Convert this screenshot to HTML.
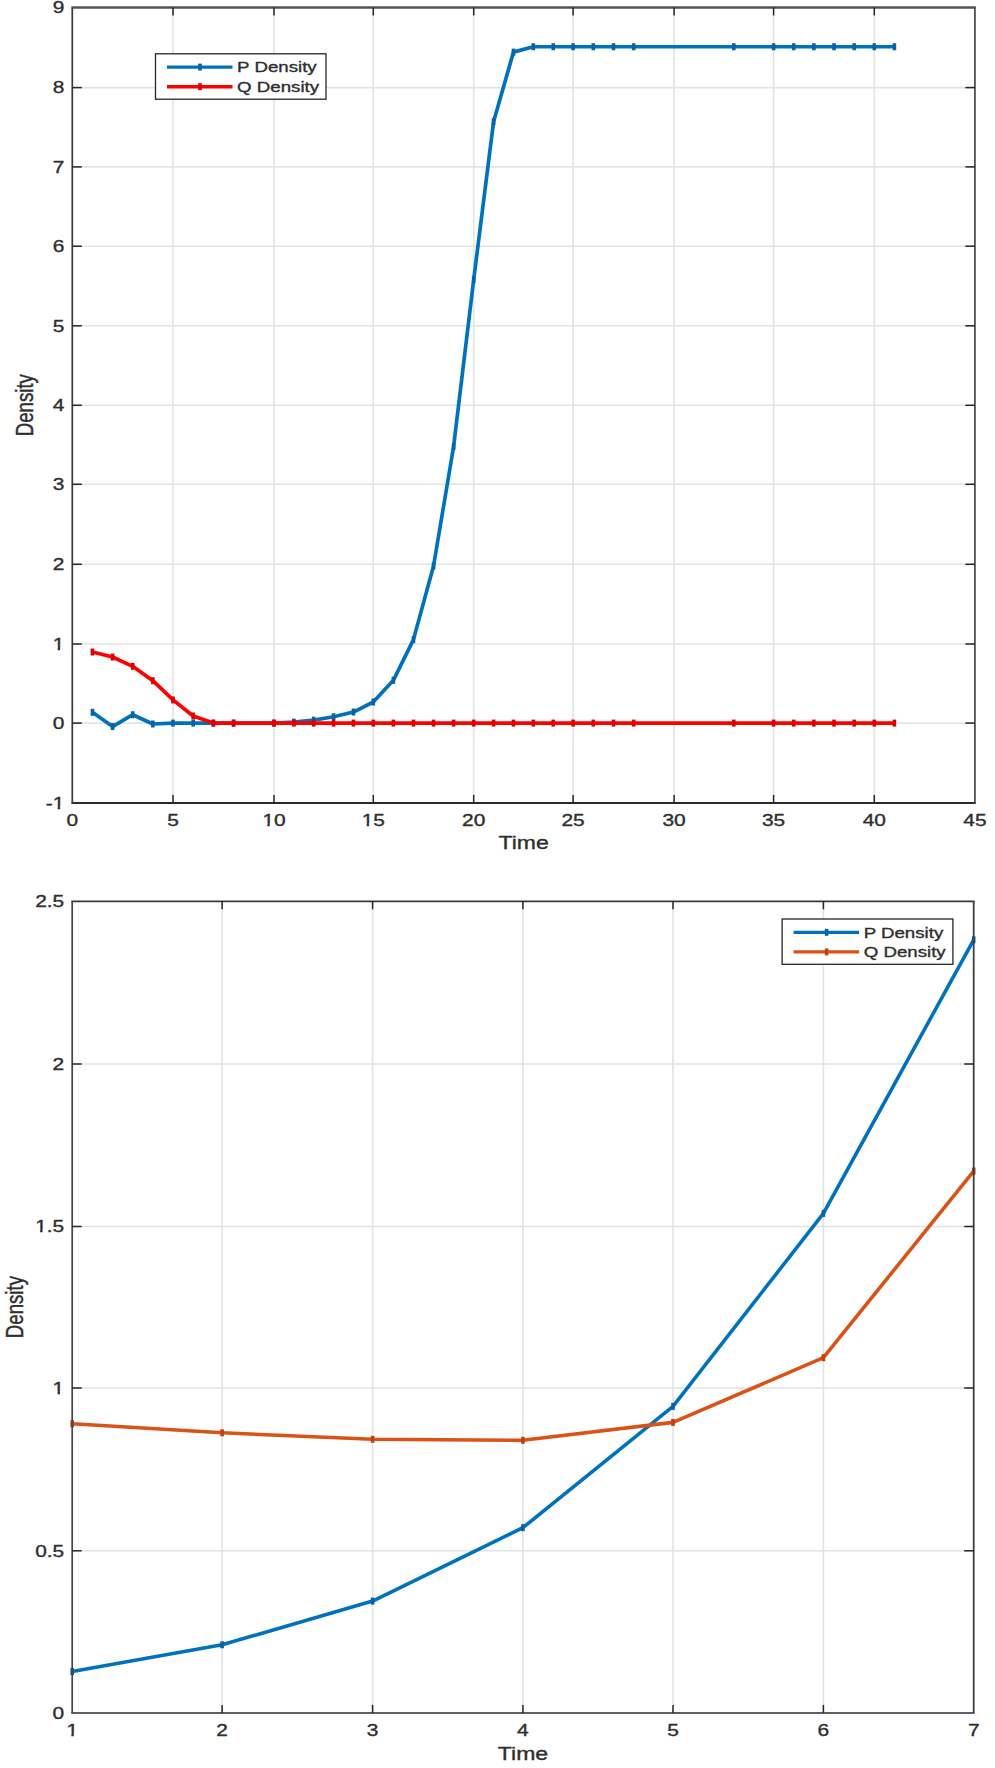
<!DOCTYPE html>
<html><head><meta charset="utf-8"><title>Density plots</title>
<style>
html,body{margin:0;padding:0;background:#fff;}
body{width:995px;height:1768px;overflow:hidden;}
svg{display:block;font-family:"Liberation Sans", sans-serif;}
</style></head>
<body>
<svg width="995" height="1768" viewBox="0 0 995 1768">
<rect width="995" height="1768" fill="#fff"/>
<line x1="173.00" y1="7.5" x2="173.00" y2="802.9" stroke="#e3e3e3" stroke-width="1.6"/>
<line x1="274.00" y1="7.5" x2="274.00" y2="802.9" stroke="#e3e3e3" stroke-width="1.6"/>
<line x1="373.30" y1="7.5" x2="373.30" y2="802.9" stroke="#e3e3e3" stroke-width="1.6"/>
<line x1="473.70" y1="7.5" x2="473.70" y2="802.9" stroke="#e3e3e3" stroke-width="1.6"/>
<line x1="573.10" y1="7.5" x2="573.10" y2="802.9" stroke="#e3e3e3" stroke-width="1.6"/>
<line x1="674.10" y1="7.5" x2="674.10" y2="802.9" stroke="#e3e3e3" stroke-width="1.6"/>
<line x1="773.60" y1="7.5" x2="773.60" y2="802.9" stroke="#e3e3e3" stroke-width="1.6"/>
<line x1="874.30" y1="7.5" x2="874.30" y2="802.9" stroke="#e3e3e3" stroke-width="1.6"/>
<line x1="72.3" y1="723.10" x2="974.9" y2="723.10" stroke="#e3e3e3" stroke-width="1.6"/>
<line x1="72.3" y1="644.00" x2="974.9" y2="644.00" stroke="#e3e3e3" stroke-width="1.6"/>
<line x1="72.3" y1="564.30" x2="974.9" y2="564.30" stroke="#e3e3e3" stroke-width="1.6"/>
<line x1="72.3" y1="484.30" x2="974.9" y2="484.30" stroke="#e3e3e3" stroke-width="1.6"/>
<line x1="72.3" y1="405.30" x2="974.9" y2="405.30" stroke="#e3e3e3" stroke-width="1.6"/>
<line x1="72.3" y1="325.80" x2="974.9" y2="325.80" stroke="#e3e3e3" stroke-width="1.6"/>
<line x1="72.3" y1="246.20" x2="974.9" y2="246.20" stroke="#e3e3e3" stroke-width="1.6"/>
<line x1="72.3" y1="166.90" x2="974.9" y2="166.90" stroke="#e3e3e3" stroke-width="1.6"/>
<line x1="72.3" y1="87.60" x2="974.9" y2="87.60" stroke="#e3e3e3" stroke-width="1.6"/>
<polyline points="92.44,712.26 112.58,726.53 132.72,714.72 152.86,723.98 173.00,723.10 193.20,723.10 213.40,723.10 233.60,723.10 274.00,723.10 293.86,722.15 313.72,720.17 333.58,716.77 353.44,712.03 373.30,701.98 393.38,680.31 413.46,639.62 433.54,565.97 453.62,446.54 473.70,279.63 493.58,121.70 513.46,52.12 533.34,46.75 553.22,46.75 573.10,46.75 593.30,46.75 613.50,46.75 633.70,46.75 733.80,46.75 773.60,46.75 793.74,46.75 813.88,46.75 834.02,46.75 854.16,46.75 874.30,46.75 894.42,46.75" fill="none" stroke="#0072bd" stroke-width="3.7" stroke-linejoin="round" stroke-linecap="butt"/>
<rect x="90.64" y="708.76" width="3.6" height="7.0" fill="#0a62a6"/>
<rect x="110.78" y="723.03" width="3.6" height="7.0" fill="#0a62a6"/>
<rect x="130.92" y="711.22" width="3.6" height="7.0" fill="#0a62a6"/>
<rect x="151.06" y="720.48" width="3.6" height="7.0" fill="#0a62a6"/>
<rect x="171.20" y="719.60" width="3.6" height="7.0" fill="#0a62a6"/>
<rect x="191.40" y="719.60" width="3.6" height="7.0" fill="#0a62a6"/>
<rect x="211.60" y="719.60" width="3.6" height="7.0" fill="#0a62a6"/>
<rect x="231.80" y="719.60" width="3.6" height="7.0" fill="#0a62a6"/>
<rect x="272.20" y="719.60" width="3.6" height="7.0" fill="#0a62a6"/>
<rect x="292.06" y="718.65" width="3.6" height="7.0" fill="#0a62a6"/>
<rect x="311.92" y="716.67" width="3.6" height="7.0" fill="#0a62a6"/>
<rect x="331.78" y="713.27" width="3.6" height="7.0" fill="#0a62a6"/>
<rect x="351.64" y="708.53" width="3.6" height="7.0" fill="#0a62a6"/>
<rect x="371.50" y="698.48" width="3.6" height="7.0" fill="#0a62a6"/>
<rect x="391.58" y="676.81" width="3.6" height="7.0" fill="#0a62a6"/>
<rect x="411.66" y="636.12" width="3.6" height="7.0" fill="#0a62a6"/>
<rect x="431.74" y="562.47" width="3.6" height="7.0" fill="#0a62a6"/>
<rect x="451.82" y="443.04" width="3.6" height="7.0" fill="#0a62a6"/>
<rect x="471.90" y="276.13" width="3.6" height="7.0" fill="#0a62a6"/>
<rect x="491.78" y="118.20" width="3.6" height="7.0" fill="#0a62a6"/>
<rect x="511.66" y="48.62" width="3.6" height="7.0" fill="#0a62a6"/>
<rect x="531.54" y="43.25" width="3.6" height="7.0" fill="#0a62a6"/>
<rect x="551.42" y="43.25" width="3.6" height="7.0" fill="#0a62a6"/>
<rect x="571.30" y="43.25" width="3.6" height="7.0" fill="#0a62a6"/>
<rect x="591.50" y="43.25" width="3.6" height="7.0" fill="#0a62a6"/>
<rect x="611.70" y="43.25" width="3.6" height="7.0" fill="#0a62a6"/>
<rect x="631.90" y="43.25" width="3.6" height="7.0" fill="#0a62a6"/>
<rect x="732.00" y="43.25" width="3.6" height="7.0" fill="#0a62a6"/>
<rect x="771.80" y="43.25" width="3.6" height="7.0" fill="#0a62a6"/>
<rect x="791.94" y="43.25" width="3.6" height="7.0" fill="#0a62a6"/>
<rect x="812.08" y="43.25" width="3.6" height="7.0" fill="#0a62a6"/>
<rect x="832.22" y="43.25" width="3.6" height="7.0" fill="#0a62a6"/>
<rect x="852.36" y="43.25" width="3.6" height="7.0" fill="#0a62a6"/>
<rect x="872.50" y="43.25" width="3.6" height="7.0" fill="#0a62a6"/>
<rect x="892.62" y="43.25" width="3.6" height="7.0" fill="#0a62a6"/>
<polyline points="92.44,651.99 112.58,657.05 132.72,666.31 152.86,680.70 173.00,699.92 193.20,715.98 213.40,723.10 233.60,723.10 274.00,723.10 293.86,723.10 313.72,723.10 333.58,723.10 353.44,723.10 373.30,723.10 393.38,723.10 413.46,723.10 433.54,723.10 453.62,723.10 473.70,723.10 493.58,723.10 513.46,723.10 533.34,723.10 553.22,723.10 573.10,723.10 593.30,723.10 613.50,723.10 633.70,723.10 733.80,723.10 773.60,723.10 793.74,723.10 813.88,723.10 834.02,723.10 854.16,723.10 874.30,723.10 894.42,723.10" fill="none" stroke="#ff0000" stroke-width="3.7" stroke-linejoin="round" stroke-linecap="butt"/>
<rect x="90.64" y="648.49" width="3.6" height="7.0" fill="#dc0000"/>
<rect x="110.78" y="653.55" width="3.6" height="7.0" fill="#dc0000"/>
<rect x="130.92" y="662.81" width="3.6" height="7.0" fill="#dc0000"/>
<rect x="151.06" y="677.20" width="3.6" height="7.0" fill="#dc0000"/>
<rect x="171.20" y="696.42" width="3.6" height="7.0" fill="#dc0000"/>
<rect x="191.40" y="712.48" width="3.6" height="7.0" fill="#dc0000"/>
<rect x="211.60" y="719.60" width="3.6" height="7.0" fill="#dc0000"/>
<rect x="231.80" y="719.60" width="3.6" height="7.0" fill="#dc0000"/>
<rect x="272.20" y="719.60" width="3.6" height="7.0" fill="#dc0000"/>
<rect x="292.06" y="719.60" width="3.6" height="7.0" fill="#dc0000"/>
<rect x="311.92" y="719.60" width="3.6" height="7.0" fill="#dc0000"/>
<rect x="331.78" y="719.60" width="3.6" height="7.0" fill="#dc0000"/>
<rect x="351.64" y="719.60" width="3.6" height="7.0" fill="#dc0000"/>
<rect x="371.50" y="719.60" width="3.6" height="7.0" fill="#dc0000"/>
<rect x="391.58" y="719.60" width="3.6" height="7.0" fill="#dc0000"/>
<rect x="411.66" y="719.60" width="3.6" height="7.0" fill="#dc0000"/>
<rect x="431.74" y="719.60" width="3.6" height="7.0" fill="#dc0000"/>
<rect x="451.82" y="719.60" width="3.6" height="7.0" fill="#dc0000"/>
<rect x="471.90" y="719.60" width="3.6" height="7.0" fill="#dc0000"/>
<rect x="491.78" y="719.60" width="3.6" height="7.0" fill="#dc0000"/>
<rect x="511.66" y="719.60" width="3.6" height="7.0" fill="#dc0000"/>
<rect x="531.54" y="719.60" width="3.6" height="7.0" fill="#dc0000"/>
<rect x="551.42" y="719.60" width="3.6" height="7.0" fill="#dc0000"/>
<rect x="571.30" y="719.60" width="3.6" height="7.0" fill="#dc0000"/>
<rect x="591.50" y="719.60" width="3.6" height="7.0" fill="#dc0000"/>
<rect x="611.70" y="719.60" width="3.6" height="7.0" fill="#dc0000"/>
<rect x="631.90" y="719.60" width="3.6" height="7.0" fill="#dc0000"/>
<rect x="732.00" y="719.60" width="3.6" height="7.0" fill="#dc0000"/>
<rect x="771.80" y="719.60" width="3.6" height="7.0" fill="#dc0000"/>
<rect x="791.94" y="719.60" width="3.6" height="7.0" fill="#dc0000"/>
<rect x="812.08" y="719.60" width="3.6" height="7.0" fill="#dc0000"/>
<rect x="832.22" y="719.60" width="3.6" height="7.0" fill="#dc0000"/>
<rect x="852.36" y="719.60" width="3.6" height="7.0" fill="#dc0000"/>
<rect x="872.50" y="719.60" width="3.6" height="7.0" fill="#dc0000"/>
<rect x="892.62" y="719.60" width="3.6" height="7.0" fill="#dc0000"/>
<line x1="71.45" y1="7.5" x2="975.8" y2="7.5" stroke="#555555" stroke-width="2.4"/>
<line x1="71.45" y1="802.9" x2="975.8" y2="802.9" stroke="#2a2a2a" stroke-width="2.0"/>
<line x1="72.3" y1="7.5" x2="72.3" y2="802.9" stroke="#3a3a3a" stroke-width="1.7"/>
<line x1="974.9" y1="7.5" x2="974.9" y2="802.9" stroke="#4f4f4f" stroke-width="1.8"/>
<line x1="173.00" y1="802.9" x2="173.00" y2="794.9" stroke="#262626" stroke-width="1.5"/>
<line x1="173.00" y1="7.5" x2="173.00" y2="15.5" stroke="#262626" stroke-width="1.5"/>
<line x1="274.00" y1="802.9" x2="274.00" y2="794.9" stroke="#262626" stroke-width="1.5"/>
<line x1="274.00" y1="7.5" x2="274.00" y2="15.5" stroke="#262626" stroke-width="1.5"/>
<line x1="373.30" y1="802.9" x2="373.30" y2="794.9" stroke="#262626" stroke-width="1.5"/>
<line x1="373.30" y1="7.5" x2="373.30" y2="15.5" stroke="#262626" stroke-width="1.5"/>
<line x1="473.70" y1="802.9" x2="473.70" y2="794.9" stroke="#262626" stroke-width="1.5"/>
<line x1="473.70" y1="7.5" x2="473.70" y2="15.5" stroke="#262626" stroke-width="1.5"/>
<line x1="573.10" y1="802.9" x2="573.10" y2="794.9" stroke="#262626" stroke-width="1.5"/>
<line x1="573.10" y1="7.5" x2="573.10" y2="15.5" stroke="#262626" stroke-width="1.5"/>
<line x1="674.10" y1="802.9" x2="674.10" y2="794.9" stroke="#262626" stroke-width="1.5"/>
<line x1="674.10" y1="7.5" x2="674.10" y2="15.5" stroke="#262626" stroke-width="1.5"/>
<line x1="773.60" y1="802.9" x2="773.60" y2="794.9" stroke="#262626" stroke-width="1.5"/>
<line x1="773.60" y1="7.5" x2="773.60" y2="15.5" stroke="#262626" stroke-width="1.5"/>
<line x1="874.30" y1="802.9" x2="874.30" y2="794.9" stroke="#262626" stroke-width="1.5"/>
<line x1="874.30" y1="7.5" x2="874.30" y2="15.5" stroke="#262626" stroke-width="1.5"/>
<line x1="72.3" y1="723.10" x2="81.8" y2="723.10" stroke="#262626" stroke-width="1.5"/>
<line x1="974.9" y1="723.10" x2="965.4" y2="723.10" stroke="#262626" stroke-width="1.5"/>
<line x1="72.3" y1="644.00" x2="81.8" y2="644.00" stroke="#262626" stroke-width="1.5"/>
<line x1="974.9" y1="644.00" x2="965.4" y2="644.00" stroke="#262626" stroke-width="1.5"/>
<line x1="72.3" y1="564.30" x2="81.8" y2="564.30" stroke="#262626" stroke-width="1.5"/>
<line x1="974.9" y1="564.30" x2="965.4" y2="564.30" stroke="#262626" stroke-width="1.5"/>
<line x1="72.3" y1="484.30" x2="81.8" y2="484.30" stroke="#262626" stroke-width="1.5"/>
<line x1="974.9" y1="484.30" x2="965.4" y2="484.30" stroke="#262626" stroke-width="1.5"/>
<line x1="72.3" y1="405.30" x2="81.8" y2="405.30" stroke="#262626" stroke-width="1.5"/>
<line x1="974.9" y1="405.30" x2="965.4" y2="405.30" stroke="#262626" stroke-width="1.5"/>
<line x1="72.3" y1="325.80" x2="81.8" y2="325.80" stroke="#262626" stroke-width="1.5"/>
<line x1="974.9" y1="325.80" x2="965.4" y2="325.80" stroke="#262626" stroke-width="1.5"/>
<line x1="72.3" y1="246.20" x2="81.8" y2="246.20" stroke="#262626" stroke-width="1.5"/>
<line x1="974.9" y1="246.20" x2="965.4" y2="246.20" stroke="#262626" stroke-width="1.5"/>
<line x1="72.3" y1="166.90" x2="81.8" y2="166.90" stroke="#262626" stroke-width="1.5"/>
<line x1="974.9" y1="166.90" x2="965.4" y2="166.90" stroke="#262626" stroke-width="1.5"/>
<line x1="72.3" y1="87.60" x2="81.8" y2="87.60" stroke="#262626" stroke-width="1.5"/>
<line x1="974.9" y1="87.60" x2="965.4" y2="87.60" stroke="#262626" stroke-width="1.5"/>
<text transform="translate(72.30,825.90) scale(1.23,1)" font-size="17" text-anchor="middle" fill="#2e2e2e" stroke="#2e2e2e" stroke-width="0.35">0</text>
<text transform="translate(173.00,825.90) scale(1.23,1)" font-size="17" text-anchor="middle" fill="#2e2e2e" stroke="#2e2e2e" stroke-width="0.35">5</text>
<text transform="translate(274.00,825.90) scale(1.23,1)" font-size="17" text-anchor="middle" fill="#2e2e2e" stroke="#2e2e2e" stroke-width="0.35">10</text>
<text transform="translate(373.30,825.90) scale(1.23,1)" font-size="17" text-anchor="middle" fill="#2e2e2e" stroke="#2e2e2e" stroke-width="0.35">15</text>
<text transform="translate(473.70,825.90) scale(1.23,1)" font-size="17" text-anchor="middle" fill="#2e2e2e" stroke="#2e2e2e" stroke-width="0.35">20</text>
<text transform="translate(573.10,825.90) scale(1.23,1)" font-size="17" text-anchor="middle" fill="#2e2e2e" stroke="#2e2e2e" stroke-width="0.35">25</text>
<text transform="translate(674.10,825.90) scale(1.23,1)" font-size="17" text-anchor="middle" fill="#2e2e2e" stroke="#2e2e2e" stroke-width="0.35">30</text>
<text transform="translate(773.60,825.90) scale(1.23,1)" font-size="17" text-anchor="middle" fill="#2e2e2e" stroke="#2e2e2e" stroke-width="0.35">35</text>
<text transform="translate(874.30,825.90) scale(1.23,1)" font-size="17" text-anchor="middle" fill="#2e2e2e" stroke="#2e2e2e" stroke-width="0.35">40</text>
<text transform="translate(974.90,825.90) scale(1.23,1)" font-size="17" text-anchor="middle" fill="#2e2e2e" stroke="#2e2e2e" stroke-width="0.35">45</text>
<text transform="translate(64.30,808.60) scale(1.23,1)" font-size="17" text-anchor="end" fill="#2e2e2e" stroke="#2e2e2e" stroke-width="0.35">-1</text>
<text transform="translate(64.30,728.80) scale(1.23,1)" font-size="17" text-anchor="end" fill="#2e2e2e" stroke="#2e2e2e" stroke-width="0.35">0</text>
<text transform="translate(64.30,649.70) scale(1.23,1)" font-size="17" text-anchor="end" fill="#2e2e2e" stroke="#2e2e2e" stroke-width="0.35">1</text>
<text transform="translate(64.30,570.00) scale(1.23,1)" font-size="17" text-anchor="end" fill="#2e2e2e" stroke="#2e2e2e" stroke-width="0.35">2</text>
<text transform="translate(64.30,490.00) scale(1.23,1)" font-size="17" text-anchor="end" fill="#2e2e2e" stroke="#2e2e2e" stroke-width="0.35">3</text>
<text transform="translate(64.30,411.00) scale(1.23,1)" font-size="17" text-anchor="end" fill="#2e2e2e" stroke="#2e2e2e" stroke-width="0.35">4</text>
<text transform="translate(64.30,331.50) scale(1.23,1)" font-size="17" text-anchor="end" fill="#2e2e2e" stroke="#2e2e2e" stroke-width="0.35">5</text>
<text transform="translate(64.30,251.90) scale(1.23,1)" font-size="17" text-anchor="end" fill="#2e2e2e" stroke="#2e2e2e" stroke-width="0.35">6</text>
<text transform="translate(64.30,172.60) scale(1.23,1)" font-size="17" text-anchor="end" fill="#2e2e2e" stroke="#2e2e2e" stroke-width="0.35">7</text>
<text transform="translate(64.30,93.30) scale(1.23,1)" font-size="17" text-anchor="end" fill="#2e2e2e" stroke="#2e2e2e" stroke-width="0.35">8</text>
<text transform="translate(64.30,13.20) scale(1.23,1)" font-size="17" text-anchor="end" fill="#2e2e2e" stroke="#2e2e2e" stroke-width="0.35">9</text>
<text transform="translate(523.60,849.20) scale(1.23,1)" font-size="18.7" text-anchor="middle" fill="#2e2e2e" stroke="#2e2e2e" stroke-width="0.35">Time</text>
<text transform="translate(32.90,405.20) rotate(-90) scale(1,1.23)" font-size="18.7" text-anchor="middle" fill="#2e2e2e" stroke="#2e2e2e" stroke-width="0.35">Density</text>
<rect x="155.5" y="53.8" width="170.5" height="45.400000000000006" fill="#fff" stroke="#262626" stroke-width="1.3"/>
<line x1="167.0" y1="67.10" x2="232.5" y2="67.10" stroke="#0072bd" stroke-width="3.4"/>
<rect x="198.20" y="63.60" width="3.6" height="7.0" fill="#0a62a6"/>
<text transform="translate(237.10,72.30) scale(1.23,1)" font-size="15.2" text-anchor="start" fill="#2e2e2e" stroke="#2e2e2e" stroke-width="0.35">P Density</text>
<line x1="167.0" y1="86.70" x2="232.5" y2="86.70" stroke="#ff0000" stroke-width="3.4"/>
<rect x="198.20" y="83.20" width="3.6" height="7.0" fill="#dc0000"/>
<text transform="translate(237.10,91.90) scale(1.23,1)" font-size="15.2" text-anchor="start" fill="#2e2e2e" stroke="#2e2e2e" stroke-width="0.35">Q Density</text>
<line x1="222.10" y1="901.3" x2="222.10" y2="1712.9" stroke="#e3e3e3" stroke-width="1.6"/>
<line x1="372.60" y1="901.3" x2="372.60" y2="1712.9" stroke="#e3e3e3" stroke-width="1.6"/>
<line x1="522.90" y1="901.3" x2="522.90" y2="1712.9" stroke="#e3e3e3" stroke-width="1.6"/>
<line x1="673.00" y1="901.3" x2="673.00" y2="1712.9" stroke="#e3e3e3" stroke-width="1.6"/>
<line x1="823.40" y1="901.3" x2="823.40" y2="1712.9" stroke="#e3e3e3" stroke-width="1.6"/>
<line x1="72.2" y1="1550.80" x2="973.7" y2="1550.80" stroke="#e3e3e3" stroke-width="1.6"/>
<line x1="72.2" y1="1388.00" x2="973.7" y2="1388.00" stroke="#e3e3e3" stroke-width="1.6"/>
<line x1="72.2" y1="1226.50" x2="973.7" y2="1226.50" stroke="#e3e3e3" stroke-width="1.6"/>
<line x1="72.2" y1="1064.00" x2="973.7" y2="1064.00" stroke="#e3e3e3" stroke-width="1.6"/>
<polyline points="72.20,1671.50 222.10,1644.80 372.60,1601.10 522.90,1527.70 673.00,1406.40 823.40,1213.40 973.70,939.80" fill="none" stroke="#0072bd" stroke-width="3.6" stroke-linejoin="round" stroke-linecap="butt"/>
<rect x="70.40" y="1668.00" width="3.6" height="7.0" fill="#0a62a6"/>
<rect x="220.30" y="1641.30" width="3.6" height="7.0" fill="#0a62a6"/>
<rect x="370.80" y="1597.60" width="3.6" height="7.0" fill="#0a62a6"/>
<rect x="521.10" y="1524.20" width="3.6" height="7.0" fill="#0a62a6"/>
<rect x="671.20" y="1402.90" width="3.6" height="7.0" fill="#0a62a6"/>
<rect x="821.60" y="1209.90" width="3.6" height="7.0" fill="#0a62a6"/>
<rect x="971.90" y="936.30" width="3.6" height="7.0" fill="#0a62a6"/>
<polyline points="72.20,1423.70 222.10,1432.80 372.60,1439.30 522.90,1440.30 673.00,1422.40 823.40,1357.70 973.70,1171.10" fill="none" stroke="#d95319" stroke-width="3.6" stroke-linejoin="round" stroke-linecap="butt"/>
<rect x="70.40" y="1420.20" width="3.6" height="7.0" fill="#c04010"/>
<rect x="220.30" y="1429.30" width="3.6" height="7.0" fill="#c04010"/>
<rect x="370.80" y="1435.80" width="3.6" height="7.0" fill="#c04010"/>
<rect x="521.10" y="1436.80" width="3.6" height="7.0" fill="#c04010"/>
<rect x="671.20" y="1418.90" width="3.6" height="7.0" fill="#c04010"/>
<rect x="821.60" y="1354.20" width="3.6" height="7.0" fill="#c04010"/>
<rect x="971.90" y="1167.60" width="3.6" height="7.0" fill="#c04010"/>
<line x1="71.35000000000001" y1="901.3" x2="974.6" y2="901.3" stroke="#383838" stroke-width="1.7"/>
<line x1="71.35000000000001" y1="1712.9" x2="974.6" y2="1712.9" stroke="#606060" stroke-width="2.0"/>
<line x1="72.2" y1="901.3" x2="72.2" y2="1712.9" stroke="#464646" stroke-width="1.7"/>
<line x1="973.7" y1="901.3" x2="973.7" y2="1712.9" stroke="#3e3e3e" stroke-width="1.8"/>
<line x1="222.10" y1="1712.9" x2="222.10" y2="1704.9" stroke="#262626" stroke-width="1.5"/>
<line x1="222.10" y1="901.3" x2="222.10" y2="909.3" stroke="#262626" stroke-width="1.5"/>
<line x1="372.60" y1="1712.9" x2="372.60" y2="1704.9" stroke="#262626" stroke-width="1.5"/>
<line x1="372.60" y1="901.3" x2="372.60" y2="909.3" stroke="#262626" stroke-width="1.5"/>
<line x1="522.90" y1="1712.9" x2="522.90" y2="1704.9" stroke="#262626" stroke-width="1.5"/>
<line x1="522.90" y1="901.3" x2="522.90" y2="909.3" stroke="#262626" stroke-width="1.5"/>
<line x1="673.00" y1="1712.9" x2="673.00" y2="1704.9" stroke="#262626" stroke-width="1.5"/>
<line x1="673.00" y1="901.3" x2="673.00" y2="909.3" stroke="#262626" stroke-width="1.5"/>
<line x1="823.40" y1="1712.9" x2="823.40" y2="1704.9" stroke="#262626" stroke-width="1.5"/>
<line x1="823.40" y1="901.3" x2="823.40" y2="909.3" stroke="#262626" stroke-width="1.5"/>
<line x1="72.2" y1="1550.80" x2="81.7" y2="1550.80" stroke="#262626" stroke-width="1.5"/>
<line x1="973.7" y1="1550.80" x2="964.2" y2="1550.80" stroke="#262626" stroke-width="1.5"/>
<line x1="72.2" y1="1388.00" x2="81.7" y2="1388.00" stroke="#262626" stroke-width="1.5"/>
<line x1="973.7" y1="1388.00" x2="964.2" y2="1388.00" stroke="#262626" stroke-width="1.5"/>
<line x1="72.2" y1="1226.50" x2="81.7" y2="1226.50" stroke="#262626" stroke-width="1.5"/>
<line x1="973.7" y1="1226.50" x2="964.2" y2="1226.50" stroke="#262626" stroke-width="1.5"/>
<line x1="72.2" y1="1064.00" x2="81.7" y2="1064.00" stroke="#262626" stroke-width="1.5"/>
<line x1="973.7" y1="1064.00" x2="964.2" y2="1064.00" stroke="#262626" stroke-width="1.5"/>
<text transform="translate(72.20,1735.90) scale(1.23,1)" font-size="17" text-anchor="middle" fill="#2e2e2e" stroke="#2e2e2e" stroke-width="0.35">1</text>
<text transform="translate(222.10,1735.90) scale(1.23,1)" font-size="17" text-anchor="middle" fill="#2e2e2e" stroke="#2e2e2e" stroke-width="0.35">2</text>
<text transform="translate(372.60,1735.90) scale(1.23,1)" font-size="17" text-anchor="middle" fill="#2e2e2e" stroke="#2e2e2e" stroke-width="0.35">3</text>
<text transform="translate(522.90,1735.90) scale(1.23,1)" font-size="17" text-anchor="middle" fill="#2e2e2e" stroke="#2e2e2e" stroke-width="0.35">4</text>
<text transform="translate(673.00,1735.90) scale(1.23,1)" font-size="17" text-anchor="middle" fill="#2e2e2e" stroke="#2e2e2e" stroke-width="0.35">5</text>
<text transform="translate(823.40,1735.90) scale(1.23,1)" font-size="17" text-anchor="middle" fill="#2e2e2e" stroke="#2e2e2e" stroke-width="0.35">6</text>
<text transform="translate(973.70,1735.90) scale(1.23,1)" font-size="17" text-anchor="middle" fill="#2e2e2e" stroke="#2e2e2e" stroke-width="0.35">7</text>
<text transform="translate(64.20,1718.60) scale(1.23,1)" font-size="17" text-anchor="end" fill="#2e2e2e" stroke="#2e2e2e" stroke-width="0.35">0</text>
<text transform="translate(64.20,1556.50) scale(1.23,1)" font-size="17" text-anchor="end" fill="#2e2e2e" stroke="#2e2e2e" stroke-width="0.35">0.5</text>
<text transform="translate(64.20,1393.70) scale(1.23,1)" font-size="17" text-anchor="end" fill="#2e2e2e" stroke="#2e2e2e" stroke-width="0.35">1</text>
<text transform="translate(64.20,1232.20) scale(1.23,1)" font-size="17" text-anchor="end" fill="#2e2e2e" stroke="#2e2e2e" stroke-width="0.35">1.5</text>
<text transform="translate(64.20,1069.70) scale(1.23,1)" font-size="17" text-anchor="end" fill="#2e2e2e" stroke="#2e2e2e" stroke-width="0.35">2</text>
<text transform="translate(64.20,907.00) scale(1.23,1)" font-size="17" text-anchor="end" fill="#2e2e2e" stroke="#2e2e2e" stroke-width="0.35">2.5</text>
<text transform="translate(522.95,1760.20) scale(1.23,1)" font-size="18.7" text-anchor="middle" fill="#2e2e2e" stroke="#2e2e2e" stroke-width="0.35">Time</text>
<text transform="translate(22.90,1307.10) rotate(-90) scale(1,1.23)" font-size="18.7" text-anchor="middle" fill="#2e2e2e" stroke="#2e2e2e" stroke-width="0.35">Density</text>
<rect x="782.1" y="919" width="170.79999999999995" height="45.299999999999955" fill="#fff" stroke="#262626" stroke-width="1.3"/>
<line x1="793.6" y1="932.30" x2="859.1" y2="932.30" stroke="#0072bd" stroke-width="3.2"/>
<rect x="824.80" y="928.80" width="3.6" height="7.0" fill="#0a62a6"/>
<text transform="translate(863.70,937.50) scale(1.23,1)" font-size="15.2" text-anchor="start" fill="#2e2e2e" stroke="#2e2e2e" stroke-width="0.35">P Density</text>
<line x1="793.6" y1="951.90" x2="859.1" y2="951.90" stroke="#d95319" stroke-width="3.2"/>
<rect x="824.80" y="948.40" width="3.6" height="7.0" fill="#c04010"/>
<text transform="translate(863.70,957.10) scale(1.23,1)" font-size="15.2" text-anchor="start" fill="#2e2e2e" stroke="#2e2e2e" stroke-width="0.35">Q Density</text>
<rect x="262.37" y="823.53" width="4.96" height="3.87" fill="#fff"/>
<rect x="269.78" y="823.53" width="4.74" height="3.87" fill="#fff"/>
<rect x="361.67" y="823.53" width="4.96" height="3.87" fill="#fff"/>
<rect x="369.08" y="823.53" width="4.74" height="3.87" fill="#fff"/>
<rect x="52.67" y="806.23" width="4.96" height="3.87" fill="#fff"/>
<rect x="60.08" y="806.23" width="4.74" height="3.87" fill="#fff"/>
<rect x="52.67" y="647.33" width="4.96" height="3.87" fill="#fff"/>
<rect x="60.08" y="647.33" width="4.74" height="3.87" fill="#fff"/>
<rect x="66.39" y="1733.53" width="4.96" height="3.87" fill="#fff"/>
<rect x="73.79" y="1733.53" width="4.74" height="3.87" fill="#fff"/>
<rect x="52.57" y="1391.33" width="4.96" height="3.87" fill="#fff"/>
<rect x="59.98" y="1391.33" width="4.74" height="3.87" fill="#fff"/>
<rect x="35.13" y="1229.83" width="4.96" height="3.87" fill="#fff"/>
<rect x="42.54" y="1229.83" width="4.74" height="3.87" fill="#fff"/>
</svg>
</body></html>
